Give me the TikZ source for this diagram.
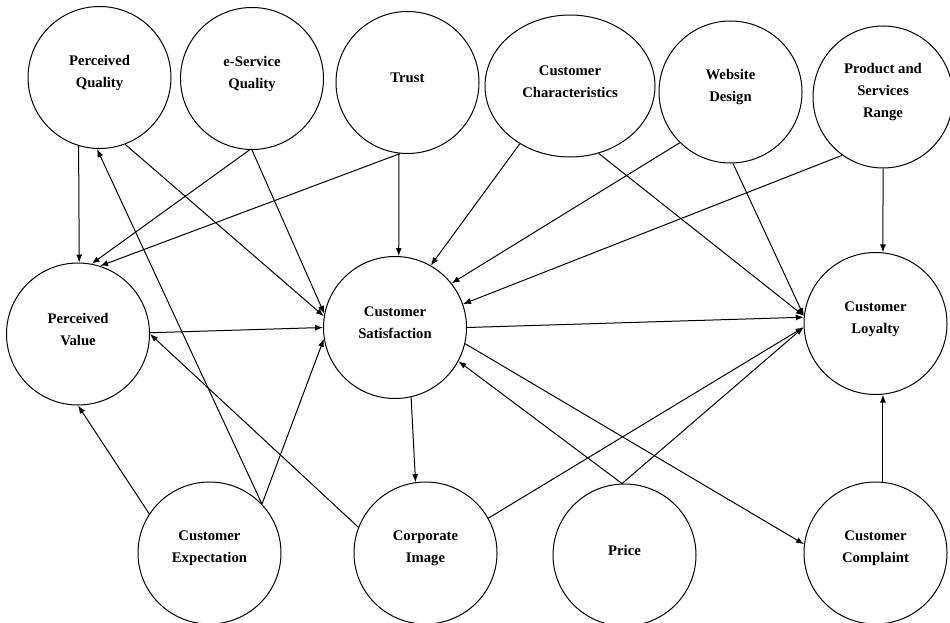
\documentclass[tikz,border=0pt]{standalone}
\usepackage{fontspec}
\setmainfont{Liberation Serif}
\usetikzlibrary{shapes.geometric,arrows.meta}
\tikzset{
  bub/.style={ellipse, draw, line width=1pt, inner sep=0pt,
    minimum width=143pt, minimum height=142pt},
  lbl/.style={align=center, font=\bfseries\fontsize{14.7}{22}\selectfont,
    yshift=4.5pt},
  link/.style={line width=1pt, -{Latex[length=8pt,width=6pt]}}
}
\begin{document}
\begin{tikzpicture}[x=1pt, y=-1pt]
\useasboundingbox (0,0) rectangle (950,623);

% top row
\node[bub, label={[lbl]center:Perceived\\Quality}] (pq) at (99.5,77.5) {};
\node[bub, label={[lbl]center:e-Service\\Quality}] (esq) at (252,78.5) {};
\node[bub, label={[lbl]center:Trust}] (trust) at (407.5,82.5) {};
\node[bub, minimum width=170pt, label={[lbl]center:Customer\\Characteristics}] (cc) at (570,86) {};
\node[bub, label={[lbl]center:Website\\Design}] (wd) at (730.5,92) {};
\node[bub, minimum width=140pt, label={[lbl]center:Product and\\Services\\Range}] (psr) at (883,97) {};

% middle row
\node[bub, label={[lbl]center:Perceived\\Value}] (pv) at (78,334) {};
\node[bub, label={[lbl]center:Customer\\Satisfaction}] (cs) at (395,327.5) {};
\node[bub, label={[lbl]center:Customer\\Loyalty}] (cl) at (875.5,323.5) {};

% bottom row
\node[bub, label={[lbl]center:Customer\\Expectation}] (ce) at (209.5,553) {};
\node[bub, label={[lbl]center:Corporate\\Image}] (ci) at (425.5,553) {};
\node[bub, label={[lbl]center:Price}] (price) at (624.5,555) {};
\node[bub, label={[lbl]center:Customer\\Complaint}] (ccomp) at (875.5,553) {};

% paths into perceived value
\draw[link] (pq.-107.9) -- (pv.89.2);
\draw[link] (esq.-92.4) -- (pv.79.6);
\draw[link] (trust.-96.8) -- (pv.72.8);
\draw[link] (ce.147) -- (pv.-90);
\draw[link] (ci.159.4) -- (pv.-0.8);
\draw[link] (ce.43) -- (pq.-92.9);

% paths into customer satisfaction
\draw[link] (pq.-69.8) -- (cs.171.5);
\draw[link] (esq.-90) -- (cs.169);
\draw[link] (trust.-97) -- (cs.87.6);
\draw[link] (cc.-131.9) -- (cs.60.2);
\draw[link] (wd.-135.3) -- (cs.38.1);
\draw[link] (psr.-125.1) -- (cs.19.8);
\draw[link] (pv.1) -- (cs.180);
\draw[link] (ce.43) -- (cs.189.7);
\draw[link] (price.92) -- (cs.-28.6);

% paths out of customer satisfaction
\draw[link] (cs.-77) -- (ci.98.4);
\draw[link] (cs.0.4) -- (cl.175.7);
\draw[link] (cs.-13.8) -- (ccomp.173.7);

% paths into customer loyalty
\draw[link] (cc.-67.3) -- (cl.174.9);
\draw[link] (wd.-88) -- (cl.174.9);
\draw[link] (psr.-90.8) -- (cl.84.7);
\draw[link] (price.92) -- (cl.183.5);
\draw[link] (ci.29.9) -- (cl.183);
\draw[link] (ccomp.84.8) -- (cl.-84.8);
\end{tikzpicture}
\end{document}
